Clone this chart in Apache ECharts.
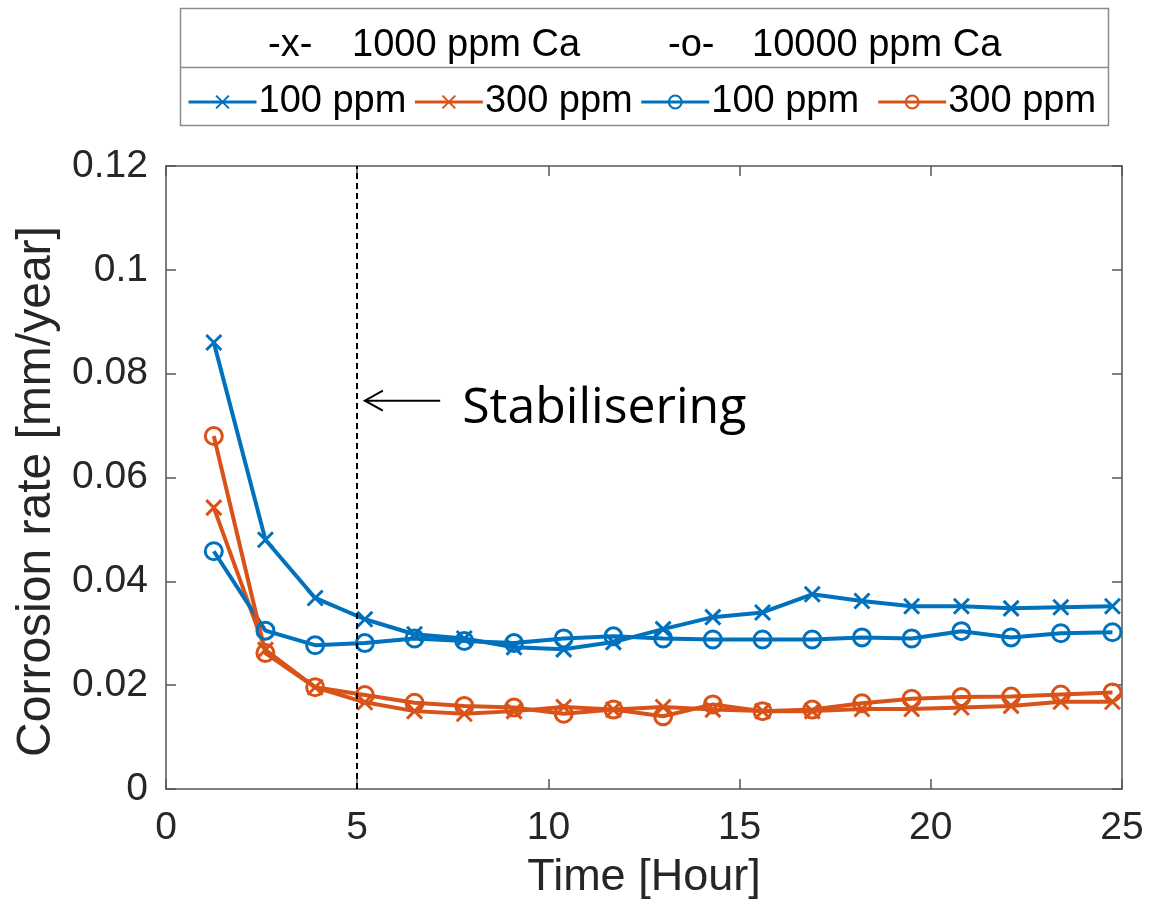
<!DOCTYPE html>
<html>
<head>
<meta charset="utf-8">
<script src="https://cdn.jsdelivr.net/npm/echarts@6/dist/echarts.min.js"></script>
<style>
html,body{margin:0;padding:0;background:#fff;}
#chart{width:1175px;height:908px;}
</style>
</head>
<body>
<div id="chart"></div>
<script>
// ---- data ----
const timeHours = [1.25, 2.6, 3.9, 5.2, 6.5, 7.8, 9.1, 10.4, 11.7, 13.0, 14.3, 15.6, 16.9, 18.2, 19.5, 20.8, 22.1, 23.4, 24.75];
const ca1000_100ppm = [0.086, 0.048, 0.0368, 0.0327, 0.0298, 0.029, 0.0273, 0.0269, 0.0283, 0.0308, 0.0331, 0.034, 0.0375, 0.0362, 0.0352, 0.0352, 0.0348, 0.035, 0.0352];
const ca1000_300ppm = [0.0542, 0.0268, 0.0196, 0.0167, 0.015, 0.0145, 0.015, 0.0158, 0.0153, 0.0158, 0.0153, 0.015, 0.015, 0.0154, 0.0154, 0.0157, 0.016, 0.0168, 0.0168];
const ca10000_100ppm = [0.0458, 0.0305, 0.0277, 0.0281, 0.029, 0.0285, 0.0281, 0.029, 0.0294, 0.029, 0.0288, 0.0288, 0.0288, 0.0292, 0.029, 0.0304, 0.0292, 0.03, 0.0302];
const ca10000_300ppm = [0.068, 0.0262, 0.0196, 0.0181, 0.0166, 0.016, 0.0157, 0.0145, 0.0153, 0.014, 0.0163, 0.015, 0.0153, 0.0165, 0.0174, 0.0177, 0.0178, 0.0182, 0.0186];
const seriesNames = ['100 ppm', '300 ppm', '100 ppm ', '300 ppm '];
const legendHeader = ['-x-', '1000 ppm Ca', '-o-', '10000 ppm Ca'];
const stabilisationTime = 5;
const annotationText = 'Stabilisering';

const BLUE = '#0072BD', ORANGE = '#D95319';
const FONT = 'Liberation Sans, Arial, Helvetica, sans-serif';
const X_PATH = 'path://M0,0L10,10M0,10L10,0';

function pairs(vals){ return timeHours.map((t,i)=>[t, vals[i]]); }

function mkSeries(name, vals, color, sym){
  const isX = sym === 'x';
  return {
    name: name, type: 'line', data: pairs(vals),
    symbol: isX ? X_PATH : 'circle',
    symbolSize: isX ? 15 : 17,
    showAllSymbol: true,
    lineStyle: {color: color, width: 4},
    itemStyle: {color: 'none', borderColor: color, borderWidth: 3},
    emphasis: {disabled: true},
    animation: false
  };
}

const chart = echarts.init(document.getElementById('chart'));
const axisLineStyle = {color: '#555', width: 1.5};
const series = [
  mkSeries(seriesNames[0], ca1000_100ppm, BLUE, 'x'),
  mkSeries(seriesNames[1], ca1000_300ppm, ORANGE, 'x'),
  mkSeries(seriesNames[2], ca10000_100ppm, BLUE, 'o'),
  mkSeries(seriesNames[3], ca10000_300ppm, ORANGE, 'o')
];
series[0].markLine = {
  silent: true, symbol: ['none','none'], label: {show: false},
  lineStyle: {color: '#000', type: [6,4], width: 2},
  data: [{xAxis: stabilisationTime}]
};

chart.setOption({
  backgroundColor: '#fff',
  animation: false,
  grid: {left: 166, right: 53, top: 166, bottom: 119, containLabel: false},
  legend: {
    left: 187, top: 83, padding: 0,
    itemWidth: 68, itemHeight: 16, itemGap: 7,
    lineStyle: {width: 3},
    textStyle: {fontFamily: FONT, fontSize: 38, color: '#000', padding: [0,0,0,-3]},
    data: seriesNames,
    selectedMode: false
  },
  xAxis: [{
    type: 'value', min: 0, max: 25, interval: 5,
    name: 'Time [Hour]', nameLocation: 'middle', nameGap: 66,
    nameTextStyle: {fontFamily: FONT, fontSize: 45, color: '#262626'},
    axisLine: {show: true, onZero: false, lineStyle: axisLineStyle},
    axisTick: {show: true, inside: true, length: 10, lineStyle: axisLineStyle},
    axisLabel: {fontFamily: FONT, fontSize: 39, color: '#262626', margin: 20},
    splitLine: {show: false}
  },{
    type: 'value', min: 0, max: 25, interval: 5, position: 'top',
    axisLine: {show: true, onZero: false, lineStyle: axisLineStyle},
    axisTick: {show: true, inside: true, length: 10, lineStyle: axisLineStyle},
    axisLabel: {show: false}, splitLine: {show: false}
  }],
  yAxis: [{
    type: 'value', min: 0, max: 0.12, interval: 0.02,
    name: 'Corrosion rate [mm/year]', nameLocation: 'middle', nameGap: 103,
    nameTextStyle: {fontFamily: FONT, fontSize: 48, color: '#262626', padding: [0, 28, 0, 0]},
    axisLine: {show: true, onZero: false, lineStyle: axisLineStyle},
    axisTick: {show: true, inside: true, length: 10, lineStyle: axisLineStyle},
    axisLabel: {fontFamily: FONT, fontSize: 39, color: '#262626', margin: 18},
    splitLine: {show: false}
  },{
    type: 'value', min: 0, max: 0.12, interval: 0.02, position: 'right',
    axisLine: {show: true, onZero: false, lineStyle: axisLineStyle},
    axisTick: {show: true, inside: true, length: 10, lineStyle: axisLineStyle},
    axisLabel: {show: false}, splitLine: {show: false}
  }],
  series: series
});

// annotation arrow and text, positioned through the axes
const tip = chart.convertToPixel({xAxisIndex:0, yAxisIndex:0}, [5.2, 0.0748]);
const tail = chart.convertToPixel({xAxisIndex:0, yAxisIndex:0}, [7.17, 0.0748]);
chart.setOption({
  graphic: [
    {type:'rect', shape:{x:180.5, y:8.5, width:928, height:117}, style:{fill:'#fff', stroke:'#8c8c8c', lineWidth:1.5}, z:0},
    {type:'line', shape:{x1:180.5, y1:67.5, x2:1108.5, y2:67.5}, style:{stroke:'#8c8c8c', lineWidth:1.5}},
    {type:'text', left:268, top:27, style:{text:legendHeader[0], font:'38px '+FONT, fill:'#000'}},
    {type:'text', left:352, top:27, style:{text:legendHeader[1], font:'38px '+FONT, fill:'#000'}},
    {type:'text', left:668, top:27, style:{text:legendHeader[2], font:'38px '+FONT, fill:'#000'}},
    {type:'text', left:752, top:27, style:{text:legendHeader[3], font:'38px '+FONT, fill:'#000'}},
    {type:'line', shape:{x1:tip[0], y1:tip[1], x2:tail[0], y2:tail[1]}, style:{stroke:'#000', lineWidth:2}},
    {type:'polyline', shape:{points:[[tip[0]+18, tip[1]-10],[tip[0], tip[1]],[tip[0]+18, tip[1]+10]]}, style:{stroke:'#000', lineWidth:2, fill:'none'}},
    {type:'text', x: tail[0]+22, y: tip[1]+8, style:{text:annotationText, font:'50px "Open Sans", sans-serif', fill:'#000', verticalAlign:'middle', align:'left'}}
  ]
});
</script>
</body>
</html>
